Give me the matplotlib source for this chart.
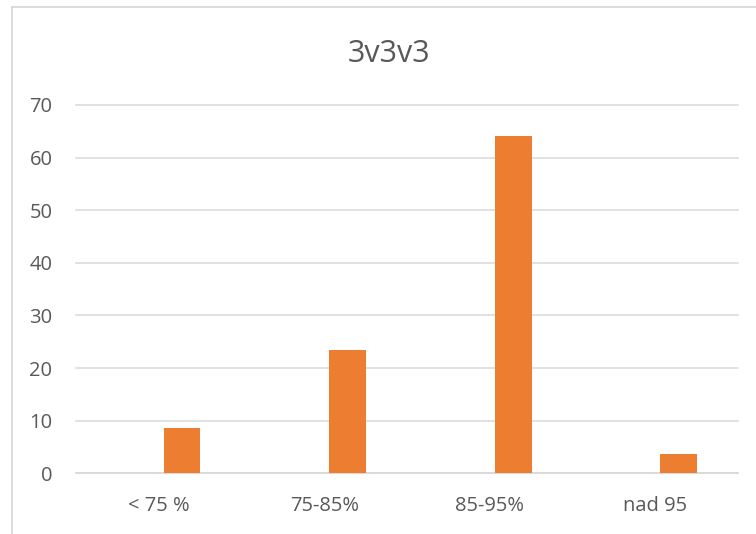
import matplotlib
matplotlib.use("Agg")
import matplotlib.pyplot as plt
from matplotlib.lines import Line2D

# Data
categories = ["< 75 %", "75-85%", "85-95%", "nad 95"]
values = [8.6, 23.4, 64.1, 3.7]
y_ticks = [0, 10, 20, 30, 40, 50, 60, 70]
title = "3v3v3"

W, H = 756, 534
fig = plt.figure(figsize=(W / 100, H / 100), dpi=100)
plt.rcParams["font.family"] = ["Open Sans", "DejaVu Sans"]

text_color = "#595959"
grid_color = "#D9D9D9"
bar_color = "#ED7D31"

ax_left, ax_right = 76 / W, 738.3 / W
ax_bottom, ax_top = (H - 473.3) / H, (H - 105.0) / H
ax = fig.add_axes([ax_left, ax_bottom, ax_right - ax_left, ax_top - ax_bottom])

x = list(range(len(categories)))
ax.bar([i + 0.14 for i in x], values, width=0.223, color=bar_color, zorder=3)

ax.set_xlim(-0.5, len(categories) - 0.5)
ax.set_ylim(0, 70)
ax.set_yticks(y_ticks)
ax.set_yticklabels([str(t) for t in y_ticks])
ax.set_xticks(x)
ax.set_xticklabels(categories)

ax.yaxis.grid(True, color=grid_color, linewidth=1.1, zorder=0)
for gl in ax.get_ygridlines():
    gl.set_clip_on(False)
ax.set_axisbelow(True)
for side in ("top", "right", "left"):
    ax.spines[side].set_visible(False)
ax.spines["bottom"].set_color(grid_color)
ax.spines["bottom"].set_linewidth(1.1)

ax.tick_params(axis="both", length=0, labelsize=14.5, colors=text_color)
ax.tick_params(axis="x", pad=16)
ax.tick_params(axis="y", pad=17)

# Title
fig.text(389.2 / W, 1 - 61.7 / H, title, ha="center", va="baseline",
         fontsize=22, color=text_color)

# Chart frame (left and top edges)
fig.add_artist(Line2D([11.5 / W, 11.5 / W], [0, 1 - 6.5 / H],
                      transform=fig.transFigure, color=grid_color, linewidth=1.3))
fig.add_artist(Line2D([11.5 / W, 1], [1 - 6.5 / H, 1 - 6.5 / H],
                      transform=fig.transFigure, color=grid_color, linewidth=1.3))

fig.savefig("out.png", dpi=100, facecolor="white")
